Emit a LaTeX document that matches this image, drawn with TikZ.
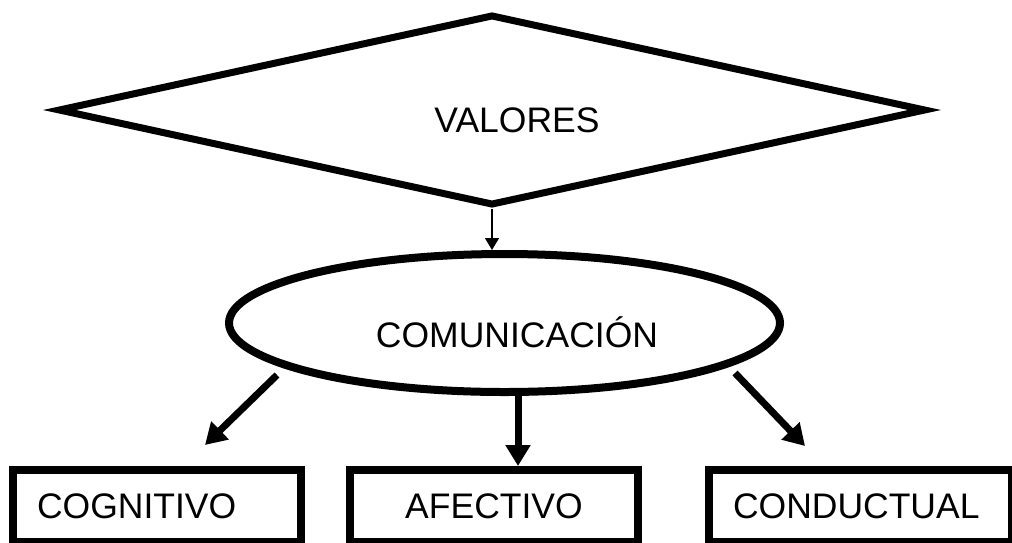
\documentclass[tikz,border=0pt]{standalone}
\usepackage{fontspec}
\setmainfont{Liberation Sans}
\usetikzlibrary{shapes.geometric,arrows.meta}

\begin{document}
\begin{tikzpicture}[x=1pt,y=-1pt,
    lbl/.style={font=\fontsize{35.5}{40}\selectfont, text height=25pt, text depth=0pt},
    caja/.style={lbl, draw, line width=8pt, minimum height=72pt, inner xsep=24pt, inner ysep=0pt, text width=240pt, align=left},
    flecha/.style={line width=7pt, -{Triangle[width=24pt,length=21pt]}}]
  \useasboundingbox (0,0) rectangle (1012,542);% page size
  \node[draw, diamond, line width=7pt, minimum width=868pt, minimum height=191pt, inner sep=0pt] (val) at (492,110) {};
  \node[lbl] (valt) at (517,120) {VALORES};
  \node[draw, ellipse, line width=8pt, minimum width=551pt, minimum height=138pt, inner sep=0pt] (com) at (504.5,323) {};
  \node[lbl] (comt) at (517,335) {COMUNICACIÓN};
  \node[caja] (cog) at (157,506) {COGNITIVO};
  \node[caja, align=center] (afe) at (494,506) {AFECTIVO};
  \node[caja, text width=255pt] (con) at (860.5,506) {CONDUCTUAL};
  \coordinate (cogcola) at (277,375);% free ends of the side arrows
  \coordinate (cogpunta) at (205,445);
  \coordinate (concola) at (735,373);
  \coordinate (conpunta) at (805,446);
  \coordinate (eje) at (518,0);
  \draw [line width=1.5pt, -{Triangle[width=14pt,length=12pt]}] (val.south) -- (com.north -| val.south);
  \draw [flecha] (cogcola) -- (cogpunta);
  \draw [flecha] (com.south -| eje) -- (afe.north -| eje);
  \draw [flecha] (concola) -- (conpunta);
\end{tikzpicture}
\end{document}
